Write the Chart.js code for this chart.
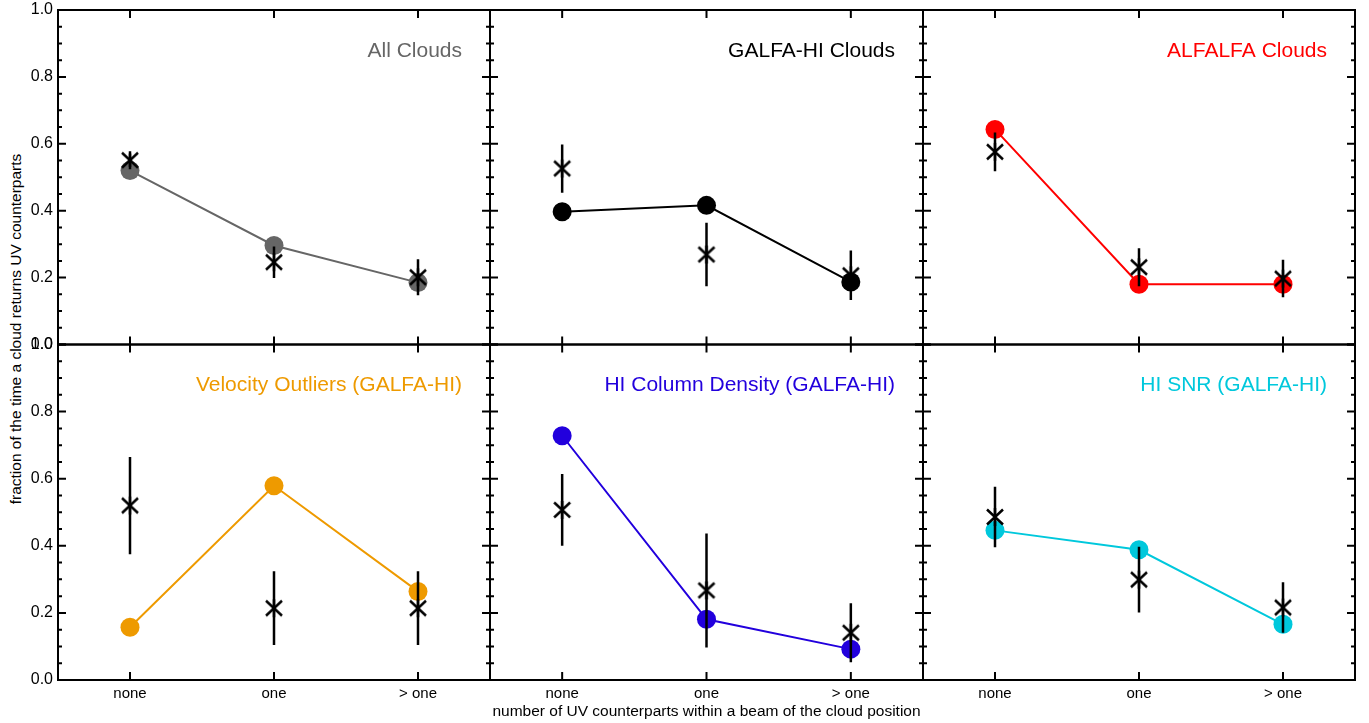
<!DOCTYPE html>
<html>
<head>
<meta charset="utf-8">
<script src="https://cdn.jsdelivr.net/npm/chart.js@4/dist/chart.umd.min.js"></script>
<style>
  body { margin: 0; background: #fff; }
  #wrap { position: relative; width: 1369px; height: 723px; overflow: hidden; }
  #wrap canvas { position: absolute; left: 0; top: 0; }
  #ytitle {
    position: absolute; left: 16px; top: 329px;
    transform: translate(-50%, -50%) rotate(-90deg);
    white-space: nowrap; color: #000;
    font: 15.5px 'Liberation Sans', Arial, Helvetica, sans-serif;
  }
</style>
</head>
<body>
<div id="wrap">
  <div id="ytitle">fraction of the time a cloud returns UV counterparts</div>
</div>
<script>
// categories on the x axis
const categories = ['none', 'one', '> one'];
const yTickValues = [0, 0.2, 0.4, 0.6, 0.8, 1.0];

// filled circles (joined by a line) and starred points with error bars
const allCirc = [0.52, 0.296, 0.185];
const allStar = [0.551, 0.246, 0.201];
const allErr = [0.02, 0.047, 0.054];

const galfaCirc = [0.397, 0.416, 0.187];
const galfaStar = [0.526, 0.269, 0.207];
const galfaErr = [0.072, 0.095, 0.074];

const alfalfaCirc = [0.643, 0.18, 0.18];
const alfalfaStar = [0.576, 0.231, 0.197];
const alfalfaErr = [0.058, 0.057, 0.056];

const velCirc = [0.157, 0.579, 0.264];
const velStar = [0.52, 0.214, 0.214];
const velErr = [0.145, 0.11, 0.11];

const colDensCirc = [0.728, 0.181, 0.092];
const colDensStar = [0.507, 0.267, 0.141];
const colDensErr = [0.107, 0.17, 0.088];

const snrCirc = [0.446, 0.388, 0.166];
const snrStar = [0.486, 0.299, 0.216];
const snrErr = [0.09, 0.098, 0.075];

const panels = [
  { title: 'All Clouds', color: '#666666', circ: allCirc, star: allStar, err: allErr, col: 0, row: 0 },
  { title: 'GALFA-HI Clouds', color: '#000000', circ: galfaCirc, star: galfaStar, err: galfaErr, col: 1, row: 0 },
  { title: 'ALFALFA Clouds', color: '#ff0000', circ: alfalfaCirc, star: alfalfaStar, err: alfalfaErr, col: 2, row: 0 },
  { title: 'Velocity Outliers (GALFA-HI)', color: '#ee9a00', circ: velCirc, star: velStar, err: velErr, col: 0, row: 1 },
  { title: 'HI Column Density (GALFA-HI)', color: '#2200dd', circ: colDensCirc, star: colDensStar, err: colDensErr, col: 1, row: 1 },
  { title: 'HI SNR (GALFA-HI)', color: '#00c8dc', circ: snrCirc, star: snrStar, err: snrErr, col: 2, row: 1 }
];

const W = 1369, H = 723;
const colEdges = [58, 490, 923, 1355];
const rowEdges = [10, 344.5, 680];
const FONT = "'Liberation Sans', Arial, Helvetica, sans-serif";

Chart.defaults.font.family = FONT;
Chart.defaults.color = '#000';

// asterisk marker (vertical stroke plus an X), like the IDL psym=2 symbol
function makeStar() {
  const c = document.createElement('canvas');
  c.width = 22; c.height = 22;
  const g = c.getContext('2d');
  g.strokeStyle = '#000';
  g.lineWidth = 2.5;
  g.beginPath();
  g.moveTo(11, 2); g.lineTo(11, 20);
  g.moveTo(3, 3.5); g.lineTo(19, 18.5);
  g.moveTo(19, 3.5); g.lineTo(3, 18.5);
  g.stroke();
  return c;
}
const starMarker = makeStar();

// frame, inward ticks and the coloured panel label
const panelFrame = {
  id: 'panelFrame',
  afterDatasetsDraw(chart, args, opts) {
    const { ctx, chartArea: a, scales: { x, y } } = chart;
    ctx.save();
    ctx.strokeStyle = '#000';
    ctx.lineWidth = 2;
    ctx.strokeRect(a.left, a.top, a.right - a.left, a.bottom - a.top);
    ctx.beginPath();
    for (let k = 0; k <= 20; k++) {
      const py = y.getPixelForValue(k * 0.05);
      const len = k % 4 === 0 ? 8 : 4;
      ctx.moveTo(a.left, py); ctx.lineTo(a.left + len, py);
      ctx.moveTo(a.right, py); ctx.lineTo(a.right - len, py);
    }
    categories.forEach((c, i) => {
      const px = x.getPixelForValue(i);
      ctx.moveTo(px, a.bottom); ctx.lineTo(px, a.bottom - 8);
      ctx.moveTo(px, a.top); ctx.lineTo(px, a.top + 8);
    });
    ctx.stroke();
    ctx.font = '21px ' + FONT;
    ctx.fillStyle = opts.color;
    ctx.textAlign = 'right';
    ctx.textBaseline = 'middle';
    ctx.fillText(opts.text, a.right - 28, a.top + 41);
    ctx.restore();
  }
};

const wrap = document.getElementById('wrap');

panels.forEach(p => {
  const canvas = document.createElement('canvas');
  canvas.width = W; canvas.height = H;
  wrap.appendChild(canvas);

  const left = colEdges[p.col], right = colEdges[p.col + 1];
  const top = rowEdges[p.row], bottom = rowEdges[p.row + 1];
  const yWidth = p.col === 0 ? 58 : 0;
  const xHeight = p.row === 1 ? H - 680 : 0;

  const errSets = p.star.map((v, i) => ({
    type: 'line',
    data: [{ x: categories[i], y: v - p.err[i] }, { x: categories[i], y: v + p.err[i] }],
    borderColor: '#000',
    borderWidth: 2.5,
    pointRadius: 0,
    order: 1
  }));

  new Chart(canvas, {
    type: 'line',
    data: {
      labels: categories,
      datasets: [
        {
          data: p.star,
          showLine: false,
          pointStyle: starMarker,
          pointRadius: 9,
          order: 0
        },
        ...errSets,
        {
          data: p.circ,
          borderColor: p.color,
          borderWidth: 2,
          pointStyle: 'circle',
          pointRadius: 9.5,
          pointBackgroundColor: p.color,
          pointBorderWidth: 0,
          order: 2
        }
      ]
    },
    options: {
      responsive: false,
      animation: false,
      events: [],
      layout: {
        padding: { left: left - yWidth, right: W - right, top: top, bottom: H - bottom - xHeight }
      },
      plugins: {
        legend: { display: false },
        tooltip: { enabled: false },
        panelFrame: { text: p.title, color: p.color }
      },
      scales: {
        x: {
          type: 'category',
          offset: true,
          grid: { display: false, drawTicks: false },
          border: { display: false },
          ticks: { display: p.row === 1, font: { size: 15 }, padding: 5, maxRotation: 0 },
          title: {
            display: p.row === 1 && p.col === 1,
            text: 'number of UV counterparts within a beam of the cloud position',
            font: { size: 15.5 },
            padding: { top: 0, bottom: 2 }
          },
          afterFit(scale) {
            scale.height = xHeight;
            scale.paddingLeft = 0; scale.paddingRight = 0;
          }
        },
        y: {
          min: 0,
          max: 1,
          grid: { display: false, drawTicks: false },
          border: { display: false },
          afterBuildTicks(scale) { scale.ticks = yTickValues.map(v => ({ value: v })); },
          ticks: {
            display: p.col === 0,
            font: { size: 16 },
            padding: 5,
            callback: v => Number(v).toFixed(1)
          },
          afterFit(scale) {
            scale.width = yWidth;
            scale.paddingTop = 0; scale.paddingBottom = 0;
          }
        }
      }
    },
    plugins: [panelFrame]
  });
});
</script>
</body>
</html>
